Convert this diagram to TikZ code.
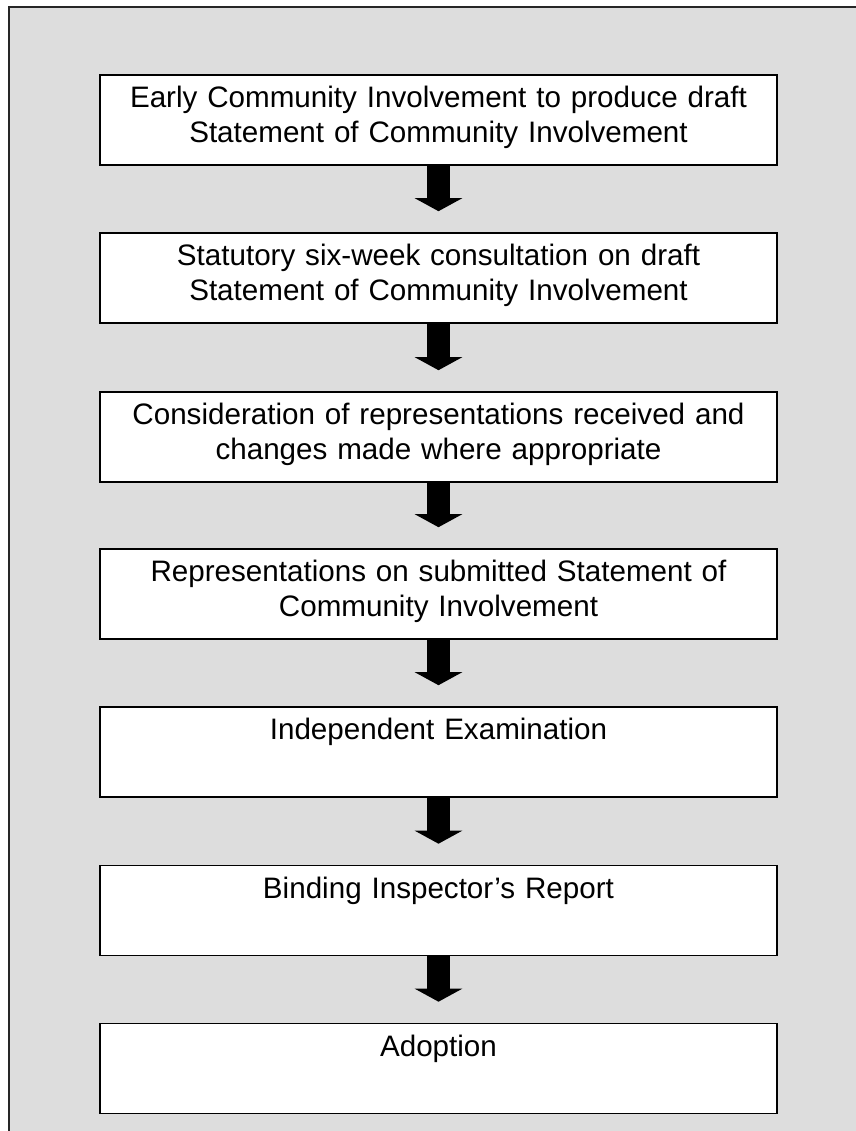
\documentclass[tikz,border=0pt]{standalone}
\usepackage{fontspec}
\setmainfont{Liberation Sans}
\usetikzlibrary{arrows.meta}
\definecolor{panelgray}{RGB}{221,221,221}
% first line strut, a little taller so the text sits lower in the box
\newcommand{\leadstrut}{\rule[-0.3\baselineskip]{0pt}{\dimexpr0.7\baselineskip+4.5pt\relax}}

\begin{document}
\begin{tikzpicture}[
  x=0.75pt, y=-0.75pt,
  stage/.style={draw, line width=1.2pt, fill=white, minimum width=507.75pt,
    minimum height=67.5pt, text width=495pt, align=center, inner xsep=3pt,
    font=\fontsize{22.2}{26.25}\selectfont},
  flow/.style={line width=17.25pt, -{Triangle[width=35.25pt,length=9.75pt]},
    shorten >=15.75pt},
]
  \useasboundingbox (0,0) rectangle (856,1131);
  \draw[fill=panelgray, draw=black!85, line width=1pt] (9,7) rectangle (880,1160);

  \node[stage] (early)  at (438.5,  120) {\leadstrut Early Community Involvement to produce draft\\\strut Statement of Community Involvement};
  \node[stage] (consult) at (438.5, 278) {\leadstrut Statutory six-week consultation on draft\\\strut Statement of Community Involvement};
  \node[stage] (consid) at (438.5,  437) {\leadstrut Consideration of representations received and\\\strut changes made where appropriate};
  \node[stage] (reps)   at (438.5,  594) {\leadstrut Representations on submitted Statement of\\\strut Community Involvement};
  \node[stage] (exam)   at (438.5,  752) {\leadstrut Independent Examination\\\strut};
  \node[stage] (report) at (438.5,  910.5) {\leadstrut Binding Inspector’s Report\\\strut};
  \node[stage] (adopt)  at (438.5, 1068.5) {\leadstrut Adoption\\\strut};

  \draw[flow] (early)   -- (consult);
  \draw[flow] (consult) -- (consid);
  \draw[flow] (consid)  -- (reps);
  \draw[flow] (reps)    -- (exam);
  \draw[flow] (exam)    -- (report);
  \draw[flow] (report)  -- (adopt);
\end{tikzpicture}
\end{document}
